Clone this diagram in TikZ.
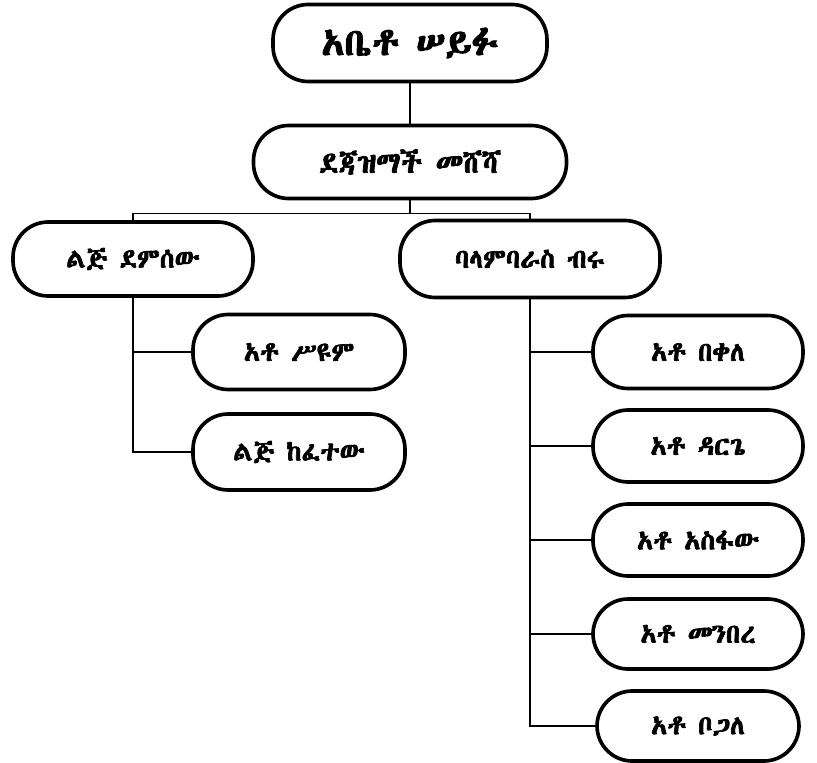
\documentclass[tikz,border=0pt]{standalone}
\usepackage{fontspec}
\IfFontExistsTF{Abyssinica SIL}
  {\newfontfamily\geez[AutoFakeBold=2.5]{Abyssinica SIL}}
  {\IfFontExistsTF{FreeSerif}
    {\newfontfamily\geez[AutoFakeBold=2.5]{FreeSerif}}
    {\IfFontExistsTF{FreeSans}
      {\newfontfamily\geez[AutoFakeBold=2.5]{FreeSans}}
      {\newfontfamily\geez[AutoFakeBold=2.5]{DejaVu Sans}}}}
\usetikzlibrary{positioning}
\newcommand{\brl}[2]{\draw (#1.south) |- (#2.west);}

\begin{document}
\begin{tikzpicture}[line width=0.8pt,node distance=2.35cm,
  box/.style={draw,line width=2.6pt,rounded corners=0.88cm,minimum height=1.85cm,
    minimum width=5.25cm,font=\geez\bfseries\fontsize{19}{19}\selectfont}]
  \useasboundingbox (0,0) rectangle (20.425,-19.075);
  \node[box,minimum width=6.85cm,minimum height=1.925cm,font=\geez\bfseries\fontsize{27}{27}\selectfont] (seyfu) at (10.25,-1.075) {አቤቶ ሠይፉ};
  \node[box,minimum width=7.825cm,minimum height=1.825cm,font=\geez\bfseries\fontsize{21}{21}\selectfont] (meshesha) [below of=seyfu,node distance=2.975cm] {ደጃዝማች መሸሻ};
  \node[box,minimum width=6cm] (demissew) at (3.325,-6.475) {ልጅ ደምሰው};
  \node[box,minimum width=6.5cm,minimum height=1.925cm] (birru) [right of=demissew,node distance=9.925cm] {ባላምባራስ ብሩ};
  \node[box,minimum width=5.3cm,minimum height=1.875cm] (seyoum) at (7.475,-8.8) {አቶ ሥዩም};
  \node[box,minimum width=5.3cm,minimum height=1.9cm] (kefetew) [below of=seyoum,node distance=2.5cm] {ልጅ ከፈተው};
  \node[box,minimum height=1.825cm] (bekele) [right of=seyoum,node distance=9.975cm] {አቶ በቀለ};
  \node[box,minimum height=1.8cm] (darge) [below of=bekele] {አቶ ዳርጌ};
  \node[box,minimum height=1.8cm] (asfaw) [below of=darge] {አቶ አስፋው};
  \node[box,minimum height=1.75cm] (menbere) [below of=asfaw] {አቶ መንበረ};
  \node[box,minimum width=5.05cm,minimum height=1.75cm] (bogale) [below of=menbere,node distance=2.3cm] {አቶ ቦጋለ};
  \draw (seyfu) -- (meshesha);
  \draw (meshesha.south) -- ++(0,-0.325) -| (demissew.north);
  \draw (meshesha.south) -- ++(0,-0.325) -| (birru.north);
  \brl{demissew}{seyoum}
  \brl{demissew}{kefetew}
  \brl{birru}{bekele}
  \brl{birru}{darge}
  \brl{birru}{asfaw}
  \brl{birru}{menbere}
  \brl{birru}{bogale}
\end{tikzpicture}
\end{document}
